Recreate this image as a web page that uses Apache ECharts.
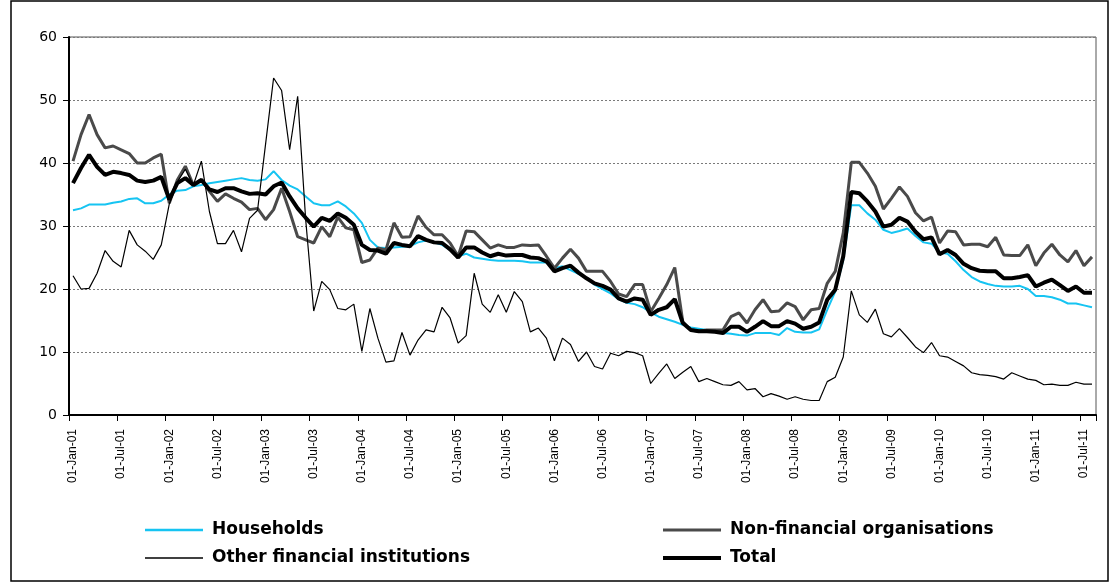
<!DOCTYPE html>
<html>
<head>
<meta charset="utf-8">
<script src="https://cdn.jsdelivr.net/npm/echarts@6/dist/echarts.min.js"></script>
<style>
  html, body { margin: 0; padding: 0; background: #fff; }
  #chart { width: 1112px; height: 582px; }
</style>
</head>
<body>
<div id="chart"></div>
<script>
// Monthly categories: Jan 2001 .. Aug 2011 (128 months)
const monthNames = ['Jan','Feb','Mar','Apr','May','Jun','Jul','Aug','Sep','Oct','Nov','Dec'];
const startYear = 2001, monthCount = 128;
const categories = [];
for (let k = 0; k < monthCount; k++) {
  const y = startYear + Math.floor(k / 12);
  categories.push('01-' + monthNames[k % 12] + '-' + String(y % 100).padStart(2, '0'));
}

const yTicks = [0, 10, 20, 30, 40, 50, 60];

const households = [
  32.5,32.8,33.4,33.4,33.4,33.7,33.9,34.3,34.4,33.6,33.6,34.0,
  35.0,35.6,35.7,36.3,36.5,36.8,37.0,37.2,37.4,37.6,37.3,37.2,
  37.4,38.7,37.3,36.4,35.8,34.7,33.6,33.3,33.3,33.9,33.1,32.0,
  30.5,27.8,26.6,26.5,26.6,26.7,26.8,27.4,27.7,27.4,27.0,26.2,
  25.2,25.6,25.0,24.8,24.6,24.5,24.5,24.5,24.4,24.2,24.2,24.2,
  23.3,23.6,23.0,22.4,21.7,20.7,20.0,19.3,18.4,17.8,17.6,17.1,
  16.3,15.6,15.2,14.8,14.3,13.9,13.7,13.5,13.2,13.0,12.9,12.7,
  12.6,13.0,13.0,13.0,12.7,13.8,13.2,13.1,13.1,13.6,16.7,19.6,
  24.6,33.3,33.3,32.0,31.0,29.4,28.9,29.2,29.6,28.4,27.4,27.2,
  25.8,25.6,24.4,23.0,21.9,21.2,20.8,20.5,20.4,20.4,20.5,20.0,
  18.9,18.9,18.7,18.3,17.7,17.7,17.4,17.1
];

const nonFinancial = [
  40.3,44.5,47.7,44.5,42.4,42.7,42.1,41.5,40.0,40.0,40.8,41.4,
  33.6,37.3,39.5,36.5,37.4,35.5,33.9,35.1,34.4,33.8,32.6,32.8,
  31.0,32.6,36.0,32.3,28.3,27.8,27.3,29.9,28.3,31.4,29.7,29.4,
  24.2,24.6,26.5,26.2,30.5,28.2,28.3,31.6,29.8,28.6,28.6,27.3,
  25.2,29.2,29.1,27.8,26.5,27.0,26.6,26.6,27.0,26.9,27.0,25.2,
  23.3,24.9,26.3,24.9,22.8,22.8,22.8,21.2,19.2,18.8,20.7,20.7,
  16.4,18.5,20.7,23.4,14.8,13.5,13.3,13.5,13.5,13.5,15.6,16.2,
  14.6,16.7,18.3,16.4,16.5,17.8,17.2,15.1,16.7,16.9,20.9,22.8,
  28.9,40.1,40.1,38.4,36.3,32.7,34.4,36.2,34.7,32.1,30.8,31.4,
  27.3,29.2,29.1,27.0,27.1,27.1,26.7,28.2,25.4,25.3,25.3,27.0,
  23.7,25.7,27.1,25.4,24.3,26.1,23.7,25.1
];

const otherFinancial = [
  22.1,20.0,20.1,22.5,26.1,24.4,23.5,29.3,27.0,26.0,24.7,27.0,
  33.5,37.0,39.0,36.5,40.3,32.3,27.2,27.2,29.3,25.9,31.2,32.5,
  43.0,53.5,51.5,42.1,50.6,31.0,16.5,21.2,19.9,16.9,16.7,17.6,
  10.1,16.9,12.2,8.4,8.6,13.1,9.5,11.9,13.5,13.2,17.1,15.4,
  11.4,12.6,22.5,17.6,16.3,19.1,16.3,19.6,18.0,13.2,13.8,12.2,
  8.6,12.2,11.2,8.5,10.0,7.7,7.3,9.8,9.4,10.1,9.9,9.4,
  5.0,6.6,8.1,5.8,6.8,7.7,5.3,5.8,5.3,4.8,4.7,5.3,
  4.0,4.2,2.9,3.4,3.0,2.5,2.9,2.5,2.3,2.3,5.3,6.0,
  9.2,19.7,15.9,14.7,16.8,12.9,12.4,13.7,12.3,10.8,9.9,11.5,
  9.4,9.2,8.5,7.8,6.7,6.4,6.3,6.1,5.7,6.7,6.2,5.7,
  5.5,4.8,4.9,4.7,4.7,5.2,4.9,4.9
];

const total = [
  36.8,39.2,41.3,39.4,38.1,38.6,38.4,38.1,37.2,37.0,37.2,37.8,
  34.2,36.8,37.6,36.5,37.3,35.8,35.4,36.0,36.0,35.5,35.1,35.2,
  35.0,36.3,36.9,34.7,32.8,31.3,29.9,31.3,30.8,32.0,31.3,30.2,
  27.0,26.2,26.1,25.6,27.3,27.0,26.8,28.4,27.8,27.4,27.3,26.3,
  25.0,26.6,26.6,25.8,25.2,25.6,25.3,25.4,25.4,25.0,24.9,24.4,
  22.8,23.3,23.7,22.6,21.7,20.9,20.5,19.9,18.5,18.0,18.5,18.3,
  15.9,16.7,17.1,18.4,14.6,13.5,13.3,13.3,13.2,13.0,14.0,14.0,
  13.2,14.0,14.9,14.1,14.1,14.9,14.5,13.7,14.0,14.7,18.3,19.9,
  25.2,35.4,35.2,33.9,32.3,29.9,30.2,31.3,30.7,29.1,27.9,28.2,
  25.5,26.2,25.4,24.0,23.3,22.9,22.8,22.8,21.7,21.7,21.9,22.2,
  20.4,21.0,21.5,20.6,19.7,20.4,19.4,19.4
];

const seriesNames = ['Households', 'Non-financial organisations', 'Other financial institutions', 'Total'];
const seriesColors = ['#16C4F2', '#4a4a4a', '#000000', '#000000'];
const seriesWidths = [2, 3, 1.2, 4];

const chart = echarts.init(document.getElementById('chart'), null, { renderer: 'canvas' });

const legendText = {
  fontFamily: 'DejaVu Sans', fontWeight: 'bold', fontSize: 17, color: '#000',
  lineHeight: 20, padding: [0, 0, 0, 4]
};
const legendPos = [[145, 520], [663, 520], [145, 548], [663, 548]];

function makeLegend(idx) {
  return {
    left: legendPos[idx][0], top: legendPos[idx][1], padding: 0,
    icon: 'rect', itemWidth: 58, itemHeight: Math.max(1.5, seriesWidths[idx] * (idx === 0 ? 1.3 : 1)),
    itemGap: 0, data: [seriesNames[idx]], textStyle: legendText,
    selectedMode: false
  };
}

chart.setOption({
  animation: false,
  backgroundColor: '#fff',
  graphic: [{
    type: 'rect',
    shape: { x: 11, y: 1, width: 1097, height: 580 },
    style: { fill: 'none', stroke: '#000', lineWidth: 1.5 },
    silent: true, z: -10
  }],
  grid: {
    left: 69, right: 16, top: 37, bottom: 167,
    show: true, borderColor: '#555', borderWidth: 1
  },
  legend: [makeLegend(0), makeLegend(1), makeLegend(2), makeLegend(3)],
  xAxis: {
    type: 'category',
    data: categories,
    boundaryGap: true,
    axisLine: { lineStyle: { color: '#000', width: 2 } },
    axisTick: { show: true, interval: 5, length: 6, lineStyle: { color: '#000', width: 1 } },
    axisLabel: {
      interval: 5, rotate: 90, margin: 14,
      fontFamily: 'Liberation Sans, Arial, sans-serif', fontSize: 12, color: '#000'
    },
    splitLine: { show: false }
  },
  yAxis: {
    type: 'value',
    min: yTicks[0], max: yTicks[yTicks.length - 1], interval: 10,
    axisLine: { show: true, lineStyle: { color: '#000', width: 2 } },
    axisTick: { show: true, length: 6, lineStyle: { color: '#000', width: 1 } },
    axisLabel: {
      margin: 12, fontFamily: 'DejaVu Sans', fontSize: 14, color: '#000'
    },
    splitLine: { show: true, lineStyle: { color: '#7a7a7a', width: 1, type: [2, 2] } }
  },
  series: [
    {
      name: seriesNames[0], type: 'line', data: households, symbol: 'none',
      lineStyle: { color: seriesColors[0], width: seriesWidths[0] }, itemStyle: { color: seriesColors[0] }, z: 2
    },
    {
      name: seriesNames[1], type: 'line', data: nonFinancial, symbol: 'none',
      lineStyle: { color: seriesColors[1], width: seriesWidths[1] }, itemStyle: { color: seriesColors[1] }, z: 3
    },
    {
      name: seriesNames[2], type: 'line', data: otherFinancial, symbol: 'none',
      lineStyle: { color: seriesColors[2], width: seriesWidths[2] }, itemStyle: { color: seriesColors[2] }, z: 4
    },
    {
      name: seriesNames[3], type: 'line', data: total, symbol: 'none',
      lineStyle: { color: seriesColors[3], width: seriesWidths[3] }, itemStyle: { color: seriesColors[3] }, z: 5
    }
  ]
});
</script>
</body>
</html>
